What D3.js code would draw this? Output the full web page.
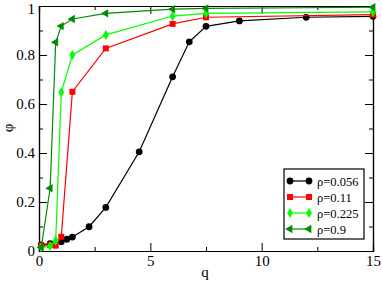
<!DOCTYPE html>
<html>
<head>
<meta charset="utf-8">
<script src="https://cdn.jsdelivr.net/npm/d3@7"></script>
<style>
  body { margin: 0; background: #fff; }
</style>
</head>
<body>
<svg id="chart"></svg>
<script>
// series data
const qBlack = [0.1, 0.5, 1, 1.25, 1.5, 2.25, 3, 4.5, 6, 6.75, 7.5, 9, 12, 15];
const phiBlack = [0.025, 0.03, 0.038, 0.048, 0.057, 0.099, 0.178, 0.405, 0.711, 0.854, 0.917, 0.939, 0.954, 0.958];

const qRed = [0.1, 0.5, 0.75, 1, 1.5, 3, 6, 7.5, 15];
const phiRed = [0.023, 0.025, 0.022, 0.058, 0.65, 0.827, 0.927, 0.954, 0.965];

const qLight = [0.1, 0.5, 0.75, 1, 1.5, 3, 6, 7.5, 15];
const phiLight = [0.015, 0.02, 0.042, 0.648, 0.8, 0.882, 0.959, 0.97, 0.976];

const qDark = [0.1, 0.5, 0.75, 1, 1.5, 3, 6, 7.5, 15];
const phiDark = [0.015, 0.256, 0.852, 0.918, 0.947, 0.97, 0.987, 0.99, 0.995];

const seriesLabels = ["ρ=0.056", "ρ=0.11", "ρ=0.225", "ρ=0.9"];

const xTicks = [0, 5, 10, 15];
const xMinor = [2.5, 7.5, 12.5];
const yTicks = [0, 0.2, 0.4, 0.6, 0.8, 1];
const yMinor = [0.1, 0.3, 0.5, 0.7, 0.9];

const serif = "Liberation Serif";
const width = 382, height = 282;
const margin = { left: 39, top: 6, right: 9, bottom: 31 };
const w = width - margin.left - margin.right;
const h = height - margin.top - margin.bottom;

const svg = d3.select("#chart").attr("width", width).attr("height", height);
const g = svg.append("g").attr("transform", "translate(" + margin.left + "," + margin.top + ")");

const x = d3.scaleLinear().domain([0, 15]).range([0, w]);
const y = d3.scaleLinear().domain([0, 1]).range([h, 0]);

// frame with inward ticks on all four sides
function tickAxis(axis, scale, ticks, size, labels) {
  return axis(scale).tickValues(ticks).tickSize(size).tickPadding(4)
    .tickFormat(labels ? d3.format("") : "");
}

const axes = [
  [d3.axisBottom, x, xTicks, -8, true, h],
  [d3.axisBottom, x, xMinor, -4, false, h],
  [d3.axisTop, x, xTicks, -8, false, 0],
  [d3.axisTop, x, xMinor, -4, false, 0],
  [d3.axisLeft, y, yTicks, -8, true, 0],
  [d3.axisLeft, y, yMinor, -4, false, 0],
  [d3.axisRight, y, yTicks, -8, false, w],
  [d3.axisRight, y, yMinor, -4, false, w]
];
axes.forEach(a => {
  const vertical = a[0] === d3.axisLeft || a[0] === d3.axisRight;
  g.append("g")
    .attr("transform", vertical ? "translate(" + a[5] + ",0)" : "translate(0," + a[5] + ")")
    .call(tickAxis(a[0], a[1], a[2], a[3], a[4]))
    .attr("font-family", serif).attr("font-size", 15);
});

g.selectAll(".domain").attr("stroke", "#000").attr("stroke-width", 1.2);
g.selectAll(".tick line").attr("stroke", "#000");
g.selectAll(".tick text").attr("fill", "#000");
// keep the top "1" inside the picture
g.selectAll(".tick text").filter(d => d === 1).attr("dy", "0.5em");

svg.append("text").attr("x", 205).attr("y", 277).attr("text-anchor", "middle")
  .attr("font-family", serif).attr("font-size", 15).text("q");
svg.append("text").attr("transform", "translate(13,128) rotate(-90)")
  .attr("text-anchor", "middle")
  .attr("font-family", serif).attr("font-size", 15).text("φ");

const series = [
  { q: qBlack, phi: phiBlack, color: "#000000", symbol: d3.symbolCircle, size: 36, rot: 0 },
  { q: qRed, phi: phiRed, color: "#ff0000", symbol: d3.symbolSquare, size: 36, rot: 0 },
  { q: qLight, phi: phiLight, color: "#00ff00", symbol: d3.symbolDiamond, size: 30, rot: 0 },
  { q: qDark, phi: phiDark, color: "#008b00", symbol: d3.symbolTriangle, size: 30, rot: -90 }
];

const line = d3.line().x(d => x(d[0])).y(d => y(d[1]));

series.forEach(s => {
  const pts = s.q.map((q, i) => [q, s.phi[i]]);
  g.append("path").datum(pts)
    .attr("fill", "none").attr("stroke", s.color).attr("stroke-width", 1.2)
    .attr("d", line);
  g.selectAll(null).data(pts).enter().append("path")
    .attr("d", d3.symbol().type(s.symbol).size(s.size))
    .attr("transform", d => "translate(" + x(d[0]) + "," + y(d[1]) + ") rotate(" + s.rot + ")")
    .attr("fill", s.color);
});

// legend
const legend = svg.append("g").attr("transform", "translate(284,169)");
legend.append("rect").attr("width", 80).attr("height", 70)
  .attr("fill", "#fff").attr("stroke", "#000").attr("stroke-width", 1.2);

series.forEach((s, i) => {
  const row = legend.append("g").attr("transform", "translate(0," + (12 + i * 16) + ")");
  row.append("line").attr("x1", 6).attr("x2", 25)
    .attr("stroke", s.color).attr("stroke-width", 1.2);
  [6, 25].forEach(px => {
    row.append("path")
      .attr("d", d3.symbol().type(s.symbol).size(s.size))
      .attr("transform", "translate(" + px + ",0) rotate(" + s.rot + ")")
      .attr("fill", s.color);
  });
  row.append("text").attr("x", 33).attr("y", 4.5)
    .attr("font-family", serif).attr("font-size", 12.5)
    .text(seriesLabels[i]);
});
</script>
</body>
</html>
